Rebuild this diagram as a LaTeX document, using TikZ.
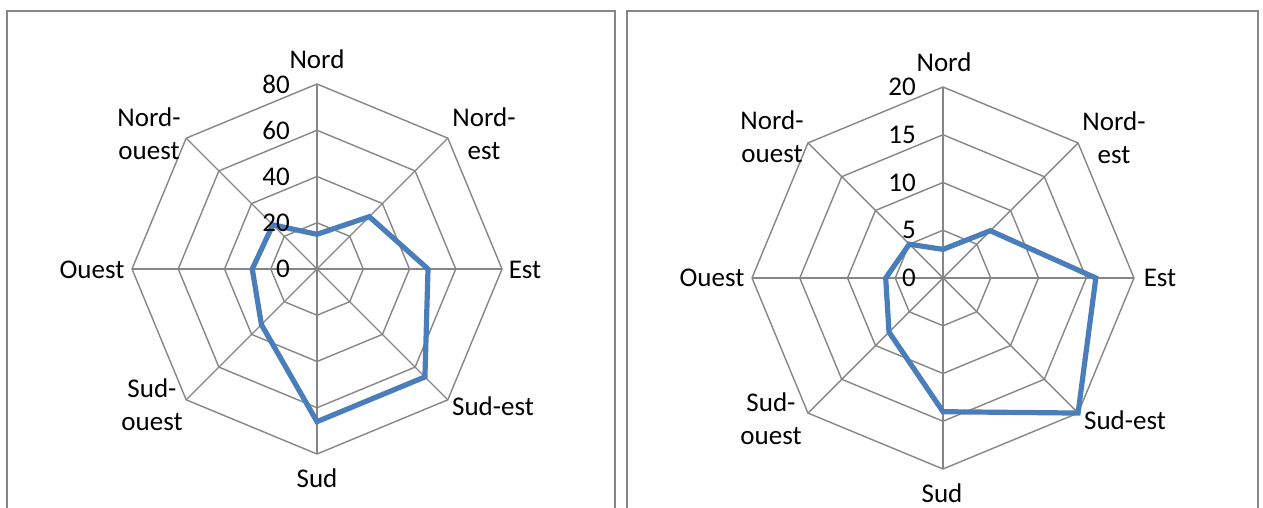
\documentclass[tikz,border=0pt]{standalone}
\usepackage{fontspec}
\setmainfont{Carlito}
\definecolor{webgray}{RGB}{134,134,134}
\definecolor{serieblue}{RGB}{74,126,187}

\begin{document}
\begin{tikzpicture}[x=1pt, y=1pt, font=\fontsize{27}{33}\selectfont,
    web/.style={draw=webgray, line width=1.4pt},
    panel/.style={draw=webgray, line width=2pt},
    serie/.style={draw=serieblue, line width=5.2pt},
    dirlabel/.style={align=center, inner sep=0pt},
    axislabel/.style={anchor=east, inner sep=0pt}]
    \useasboundingbox (0,0) rectangle (1263,507);

    % panels
    \draw[panel] (7,-5) |- (615,496) -- (615,-5);
    \draw[panel] (627,-5) |- (1258,496) -- (1258,-5);

    % left chart, scale 0..80
    \begin{scope}[shift={(317,238)}, scale=2.3125]
      \foreach \r in {20,40,60,80}
        \draw[web] (90:\r) -- (45:\r) -- (0:\r) -- (-45:\r) -- (-90:\r) -- (-135:\r) -- (180:\r) -- (135:\r) -- cycle;
      \foreach \a in {0,45,...,315}
        \draw[web] (0,0) -- (\a:80);
      \draw[serie] (90:15) -- (45:32) -- (0:48) -- (-45:66) -- (-90:66) -- (-135:34) -- (180:28) -- (135:27) -- cycle;
    \end{scope}
    \foreach \v [count=\i from 0] in {0,20,40,60,80}
      \node[axislabel] (laxis\v) at (290,238+\i*46.25) {\v};

    \node[dirlabel] (lnord) at (317,448) {Nord};
    \node[dirlabel] (lnordest) at (484,373.5) {Nord-\\est};
    \node[dirlabel] (lest) at (525,237) {Est};
    \node[dirlabel] (lsudest) at (493,101) {Sud-est};
    \node[dirlabel] (lsud) at (317,29) {Sud};
    \node[dirlabel] (lsudouest) at (152,102) {Sud-\\ouest};
    \node[dirlabel] (louest) at (92,237) {Ouest};
    \node[dirlabel] (lnordouest) at (149,373.5) {Nord-\\ouest};

    % right chart, scale 0..20
    \begin{scope}[shift={(943,229)}, scale=9.55]
      \foreach \r in {5,10,15,20}
        \draw[web] (90:\r) -- (45:\r) -- (0:\r) -- (-45:\r) -- (-90:\r) -- (-135:\r) -- (180:\r) -- (135:\r) -- cycle;
      \foreach \a in {0,45,...,315}
        \draw[web] (0,0) -- (\a:20);
      \draw[serie] (90:3) -- (45:7) -- (0:16) -- (-45:20) -- (-90:14) -- (-135:8) -- (180:6) -- (135:5) -- cycle;
    \end{scope}
    \foreach \v [count=\i from 0] in {0,5,10,15,20}
      \node[axislabel] (raxis\v) at (916,229+\i*47.75) {\v};

    \node[dirlabel] (rnord) at (944,445) {Nord};
    \node[dirlabel] (rnordest) at (1114,369) {Nord-\\est};
    \node[dirlabel] (rest) at (1160,229) {Est};
    \node[dirlabel] (rsudest) at (1125,87) {Sud-est};
    \node[dirlabel] (rsud) at (942,14) {Sud};
    \node[dirlabel] (rsudouest) at (771,88) {Sud-\\ouest};
    \node[dirlabel] (rouest) at (712,229) {Ouest};
    \node[dirlabel] (rnordouest) at (772,370) {Nord-\\ouest};
\end{tikzpicture}
\end{document}
